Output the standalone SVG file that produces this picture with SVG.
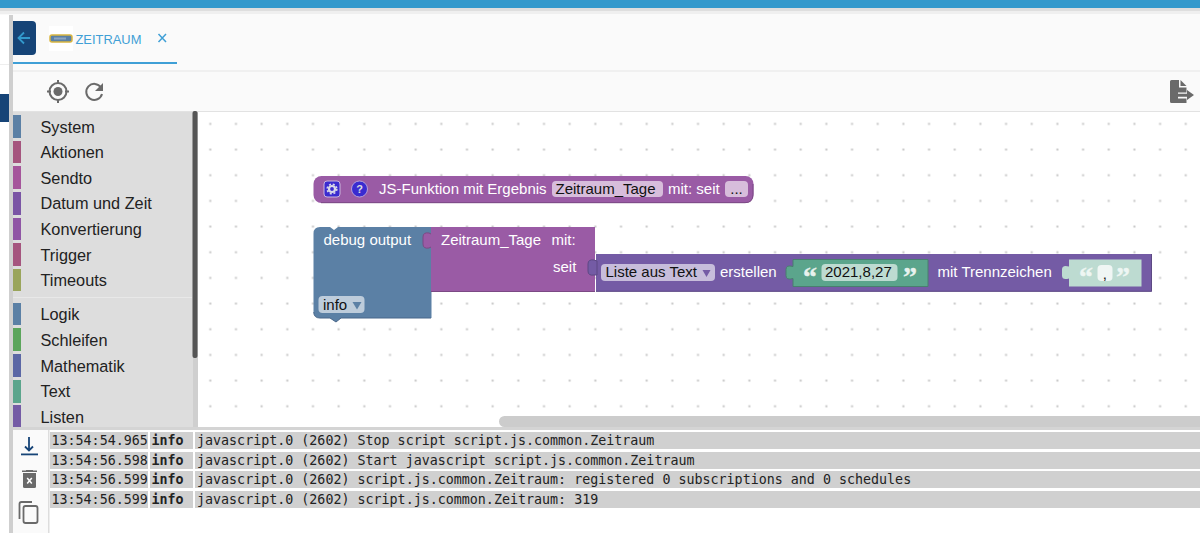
<svg xmlns="http://www.w3.org/2000/svg" width="1200" height="533" viewBox="0 0 1200 533">
<style>
text{font-family:"Liberation Sans",Arial,sans-serif}
.m{font-size:16.3px;fill:#222}
.w{font-size:15px;fill:#fff}
.d{font-size:15px;fill:#111}
.l{font-family:"DejaVu Sans Mono","Liberation Mono",monospace;font-size:13.33px;fill:#222}
.r{fill:#d0d0d0}
.q{font-family:"Liberation Serif",serif;font-size:28px;font-weight:bold;stroke-width:.4px}
.ic{fill:#6a6a6a}
</style>
<defs>
<pattern id="dots" x="208.800" y="122.400" width="25.67" height="25.67" patternUnits="userSpaceOnUse"><rect x="0.500" y="0.500" width="2" height="2" fill="#c6c6c6"/></pattern>
</defs>
<rect width="1200" height="533" fill="#fff"/>
<g id="header">
<rect y="8" width="1200" height="62" fill="#fafafa"/>
<rect y="8" width="1200" height="3" fill="#dedede"/>
<rect y="11" width="1200" height="3" fill="#efefef"/>
<rect width="1200" height="8" fill="#3399cc"/>
<rect y="70" width="1200" height="2" fill="#f0f0f0"/>
<rect x="0" y="15" width="9" height="415" fill="#fff"/>
<rect x="0" y="64" width="9" height="1" fill="#eeeeee"/>
<rect x="0" y="94" width="9" height="28" fill="#164477"/>
<path d="M13 21h19a4 4 0 0 1 4 4v26a4 4 0 0 1-4 4H13z" fill="#164477"/>
<path d="M30 38H19M24 32.500l-5.500 5.500 5.500 5.500" fill="none" stroke="#3399cc" stroke-width="1.800"/>
<rect x="49" y="26" width="24" height="25" fill="#fff"/>
<rect x="50" y="35" width="22" height="7" rx="2" fill="#5b80a5" stroke="#d9b53f" stroke-width="1.500"/>
<rect x="54" y="37.500" width="12" height="2" fill="#8fa6bf"/>
<text x="75.500" y="43.500" font-size="12.900" fill="#3f9fd6">ZEITRAUM</text>
<path d="M158.500 34l7.500 8M166 34l-7.500 8" stroke="#3f9fd6" stroke-width="1.500"/>
<rect x="13" y="62" width="164" height="2" fill="#3f9fd6"/>
<rect x="9" y="15" width="4" height="518" fill="#cfcfcf"/>
</g>
<g id="toolbar">
<rect x="13" y="72" width="1187" height="39" fill="#fafafa"/>
<rect x="13" y="111" width="1187" height="1" fill="#e2e2e2"/>
<circle cx="58" cy="91.500" r="8.500" fill="none" stroke="#6a6a6a" stroke-width="2"/>
<circle cx="58" cy="91.500" r="4.500" class="ic"/>
<path d="M58 80v4M58 99v4M47 91.500h4M65 91.500h4" stroke="#6a6a6a" stroke-width="2"/>
<path d="M101 87.500a8 8 0 1 0 1 6.500" fill="none" stroke="#6a6a6a" stroke-width="2"/>
<path d="M103 83v8h-8z" class="ic"/>
<path d="M1171 80h8v7.500h7.500V103h-15a1.500 1.500 0 0 1-1.500-1.500v-20a1.500 1.500 0 0 1 1.500-1.500z" class="ic"/>
<path d="M1180.500 80l6 6h-6z" class="ic"/>
<rect x="1178" y="92.500" width="9" height="6" fill="#fafafa"/>
<path d="M1178 93.700h9v-3.700l7 5-7 5v-3.200h-9z" class="ic"/>
</g>
<g id="toolbox">
<rect x="13" y="112" width="180" height="315" fill="#dddddd"/>
<rect x="13" y="297" width="179" height="1" fill="#e8e8e8"/>
<rect x="193" y="112" width="5" height="315" fill="#cfcfcf"/>
<rect x="192.500" y="111" width="5" height="247" rx="2" fill="#555"/>
<rect x="13" y="115" width="8" height="23" fill="#5b80a5"/>
<rect x="13" y="141" width="8" height="22" fill="#a5557e"/>
<rect x="13" y="166" width="8" height="23" fill="#a5559b"/>
<rect x="13" y="192" width="8" height="23" fill="#7a55a5"/>
<rect x="13" y="218" width="8" height="22" fill="#8f55a5"/>
<rect x="13" y="243" width="8" height="23" fill="#a5557e"/>
<rect x="13" y="269" width="8" height="22" fill="#9aa55b"/>
<rect x="13" y="303" width="8" height="22" fill="#5b80a5"/>
<rect x="13" y="328" width="8" height="23" fill="#5ba55b"/>
<rect x="13" y="354" width="8" height="23" fill="#5b67a5"/>
<rect x="13" y="380" width="8" height="23" fill="#5ba58c"/>
<rect x="13" y="405" width="8" height="22" fill="#745ba5"/>
<text class="m" x="40.500" y="132.500">System</text>
<text class="m" x="40.500" y="158">Aktionen</text>
<text class="m" x="40.500" y="183.500">Sendto</text>
<text class="m" x="40.500" y="209">Datum und Zeit</text>
<text class="m" x="40.500" y="235">Konvertierung</text>
<text class="m" x="40.500" y="260.500">Trigger</text>
<text class="m" x="40.500" y="286">Timeouts</text>
<text class="m" x="40.500" y="320">Logik</text>
<text class="m" x="40.500" y="345.500">Schleifen</text>
<text class="m" x="40.500" y="371.500">Mathematik</text>
<text class="m" x="40.500" y="397">Text</text>
<text class="m" x="40.500" y="422.500">Listen</text>
</g>
<g id="workspace">
<rect x="198" y="112" width="1002" height="315" fill="url(#dots)"/>
<rect x="13" y="427" width="1187" height="3" fill="#d4d4d4"/>
<path d="M1200 416H504.500a5.500 5.500 0 0 0 0 11H1200z" fill="#cccccc"/>
</g>
<g id="connectors"></g>
<g id="node-js-function">
<rect x="313.500" y="176" width="440" height="27" rx="8" fill="#9a5ba5"/>
<path d="M321 202.700h424q8 0 8-8V184" fill="none" stroke="#7b4984" stroke-width="1"/>
<rect x="324" y="181" width="16" height="16" rx="3" fill="#3a2bd0" stroke="#c9b5dd"/>
<circle cx="332" cy="189" r="3" fill="none" stroke="#d8d8e8" stroke-width="2.200"/>
<circle cx="332" cy="189" r="4.800" fill="none" stroke="#d8d8e8" stroke-width="1.600" stroke-dasharray="2 1.800"/>
<circle cx="359.500" cy="189" r="8" fill="#3a2bd0" stroke="#c9b5dd" stroke-width=".8"/>
<text x="359.500" y="193" font-size="11" font-weight="bold" fill="#ddd" text-anchor="middle">?</text>
<text class="w" x="379" y="194">JS-Funktion mit Ergebnis</text>
<rect x="552" y="181" width="111" height="16" rx="4" fill="#d7bddb"/>
<text class="d" x="555.500" y="194">Zeitraum_Tage</text>
<text class="w" x="668" y="194">mit: seit</text>
<rect x="725" y="181" width="23" height="16" rx="4" fill="#d7bddb"/>
<text class="d" x="736.500" y="194" text-anchor="middle">...</text>
</g>
<g id="node-debug">
<path d="M320 227h10l4 3 4-3h93.500v91H341l-5 4-6-4h-10q-6.500 0-6.500-6.500v-78q0-6.500 6.500-6.500z" fill="#5b80a5"/>
<path d="M313.800 312q0 6 6.200 6h10l6 4 5-4h90" fill="none" stroke="#49678a"/>
<text class="w" x="323.500" y="245">debug output</text>
<rect x="318.500" y="296" width="46" height="17" rx="4" fill="#bdccdb"/>
<text class="d" x="323" y="310">info</text>
<path d="M352.500 302h9l-4.500 7.500z" fill="#5b80a5"/>
</g>
<g id="node-zeitraum-tage">
<path d="M431 227h164v64.500H431V247l-2 1q-6 1-6-4v-7q0-5 6-4l2 1z" fill="#9a5ba5"/>
<path d="M431 291.500h164M431 234l-2-1q-6-1-6 4v7q0 5 6 4l2-1" fill="none" stroke="#7b4984"/>
<text class="w" x="441" y="245">Zeitraum_Tage</text>
<text class="w" x="551.500" y="245">mit:</text>
<text class="w" x="553" y="272">seit</text>
</g>
<g id="node-list">
<rect x="596" y="254" width="556" height="37.500" fill="#745ba5"/>
<path d="M596 291.300h555.500V254" fill="none" stroke="#5d4984"/>
<path d="M597 275l-3 0q-6 1-6-4v-7q0-5 6-4l3 1z" fill="#745ba5" stroke="#5d4984"/>
<rect x="601" y="264" width="114" height="17" rx="4" fill="#c7bddb"/>
<text class="d" x="605.500" y="277">Liste aus Text</text>
<path d="M702.500 270h8l-4 7z" fill="#745ba5"/>
<text class="w" x="720" y="277">erstellen</text>
<text class="w" x="937.500" y="277">mit Trennzeichen</text>
</g>
<g id="node-date-text">
<path d="M793 259.500h135v27H793v-8q-7 2-7-3v-6q0-5 7-3z" fill="#5ba58c" stroke="#497f6f"/>
<text class="q" x="803" y="286" fill="#e8f2ee" stroke="#e8f2ee">“</text>
<rect x="821.500" y="264" width="76" height="17" rx="4" fill="#bddbd1"/>
<text class="d" x="825" y="277">2021,8,27</text>
<text class="q" x="903" y="286" fill="#e8f2ee" stroke="#e8f2ee">”</text>
</g>
<g id="node-separator-text">
<path d="M1069 259.500h72.500v27H1069v-8q-7 2-7-3v-6q0-5 7-3z" fill="#bddbd1"/>
<text class="q" x="1079" y="286" fill="#eef6f3" stroke="#eef6f3">“</text>
<rect x="1097.500" y="265" width="15" height="16" rx="4" fill="#f0f6f4"/>
<text class="d" x="1104.800" y="279" font-size="13" text-anchor="middle">,</text>
<text class="q" x="1116" y="286" fill="#eef6f3" stroke="#eef6f3">”</text>
</g>
<g id="log">
<rect x="13" y="430" width="35" height="103" fill="#fafafa"/>
<rect x="48" y="430" width="1.500" height="103" fill="#dddddd"/>
<path d="M29 437v13.500M25 446.500l4 4 4-4" fill="none" stroke="#164477" stroke-width="1.800"/>
<rect x="21" y="453.500" width="17" height="1.800" fill="#164477"/>
<path d="M23 473h13v13.500a1.500 1.500 0 0 1-1.500 1.500h-10a1.500 1.500 0 0 1-1.500-1.500z" class="ic"/>
<rect x="22" y="470.500" width="15" height="1.500" class="ic"/>
<rect x="26" y="470" width="7" height="1.500" class="ic"/>
<path d="M27.200 478l4.600 5.500M31.800 478l-4.600 5.500" stroke="#fff" stroke-width="1.500"/>
<path d="M32 502H21.500a2 2 0 0 0-2 2v15" fill="none" stroke="#6a6a6a" stroke-width="1.800"/>
<rect x="23.500" y="506" width="14" height="17" rx="2" fill="none" stroke="#6a6a6a" stroke-width="1.800"/>
<rect class="r" x="50" y="432" width="98" height="17"/><rect class="r" x="150" y="432" width="43" height="17"/><rect class="r" x="195" y="432" width="1005" height="17"/>
<rect class="r" x="50" y="452" width="98" height="17"/><rect class="r" x="150" y="452" width="43" height="17"/><rect class="r" x="195" y="452" width="1005" height="17"/>
<rect class="r" x="50" y="471" width="98" height="17"/><rect class="r" x="150" y="471" width="43" height="17"/><rect class="r" x="195" y="471" width="1005" height="17"/>
<rect class="r" x="50" y="491" width="98" height="17"/><rect class="r" x="150" y="491" width="43" height="17"/><rect class="r" x="195" y="491" width="1005" height="17"/>
<text class="l" x="51.500" y="445">13:54:54.965</text><text class="l" x="151.500" y="445" font-weight="bold">info</text><text class="l" x="197" y="445">javascript.0 (2602) Stop script script.js.common.Zeitraum</text>
<text class="l" x="51.500" y="465">13:54:56.598</text><text class="l" x="151.500" y="465" font-weight="bold">info</text><text class="l" x="197" y="465">javascript.0 (2602) Start javascript script.js.common.Zeitraum</text>
<text class="l" x="51.500" y="484">13:54:56.599</text><text class="l" x="151.500" y="484" font-weight="bold">info</text><text class="l" x="197" y="484">javascript.0 (2602) script.js.common.Zeitraum: registered 0 subscriptions and 0 schedules</text>
<text class="l" x="51.500" y="504">13:54:56.599</text><text class="l" x="151.500" y="504" font-weight="bold">info</text><text class="l" x="197" y="504">javascript.0 (2602) script.js.common.Zeitraum: 319</text>
</g>
</svg>
